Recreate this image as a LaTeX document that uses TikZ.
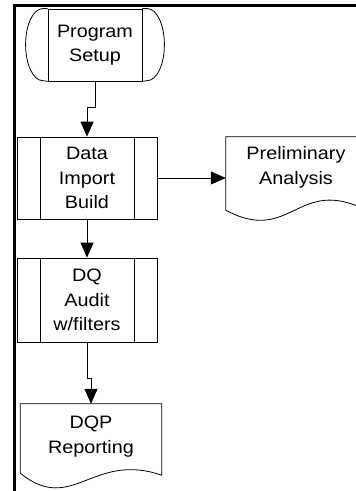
\documentclass[tikz,border=0pt]{standalone}
\usepackage{fontspec}
\setmainfont[FakeStretch=1.1]{Liberation Sans}
\usetikzlibrary{arrows.meta,calc}
\begin{document}
\begin{tikzpicture}[x=1pt,y=-1pt,
  every node/.style={font=\fontsize{18}{24.5}\selectfont, align=center, inner sep=0pt},
  shapeline/.style={line width=0.8pt, draw=black},
  flow/.style={line width=0.8pt, -{Triangle[length=15pt,width=13pt]}},
  framebar/.style={line width=3pt},
  procbox/.style={shapeline, rectangle, minimum width=140pt},
]
\useasboundingbox (0,0) rectangle (356,491);
\clip (0,0) rectangle (356,491);
\draw[framebar] (14,495) -- (14,5) -- (360,5);

% Program Setup
\node[shapeline, rectangle, minimum width=94pt, minimum height=72pt] (ps) at (95,45) {Program\\Setup};
\draw[shapeline] (ps.north west) -- ++(-5,0) arc[start angle=90, end angle=270, x radius=17pt, y radius=36pt] -- (ps.south west);
\draw[shapeline] (ps.north east) -- ++(5,0) arc[start angle=90, end angle=-90, x radius=17pt, y radius=36pt] -- (ps.south east);

% Data Import Build
\node[procbox, minimum height=82pt] (data) at (87,178) {Data\\Import\\Build};
\draw[shapeline] ([xshift=24pt]data.north west) -- ([xshift=24pt]data.south west);
\draw[shapeline] ([xshift=-23pt]data.north east) -- ([xshift=-23pt]data.south east);

% DQ Audit
\node[procbox, minimum height=84pt] (dq) at (87,300) {DQ\\Audit\\w/filters};
\draw[shapeline] ([xshift=24pt]dq.north west) -- ([xshift=24pt]dq.south west);
\draw[shapeline] ([xshift=-23pt]dq.north east) -- ([xshift=-23pt]dq.south east);

% Preliminary Analysis (document)
\node[minimum width=140pt, minimum height=61pt] (prelim) at (296,167.5) {Preliminary\\Analysis};
\coordinate (pl) at ([yshift=-12pt]prelim.south west);
\coordinate (pr) at ([yshift=-12pt]prelim.south east);
\draw[shapeline] (pl) -- (prelim.north west) -- (prelim.north east) -- (pr)
  .. controls ($(pl)+(72,-35)$) and ($(pl)+(65,35)$) .. (pl);

% DQP Reporting (document)
\node[minimum width=141pt, minimum height=65pt] (report) at (91,436.5) {DQP\\Reporting};
\coordinate (rl) at ([yshift=-4pt]report.south west);
\coordinate (rr) at ([yshift=-6pt]report.south east);
\draw[shapeline] (rl) -- (report.north west) -- (report.north east) -- (rr)
  .. controls ($(rl)+(72,-22)$) and ($(rl)+(52,42)$) .. (rl);

% connectors
\draw[flow] (ps.south) -- ++(0,26) -| (data.north);
\draw[flow] (data.east) -- (data.east -| prelim.west);
\draw[flow] (data.south) -- (dq.north);
\draw[flow] (dq.south) -- ++(0,36) -| (report.north);
\end{tikzpicture}
\end{document}
